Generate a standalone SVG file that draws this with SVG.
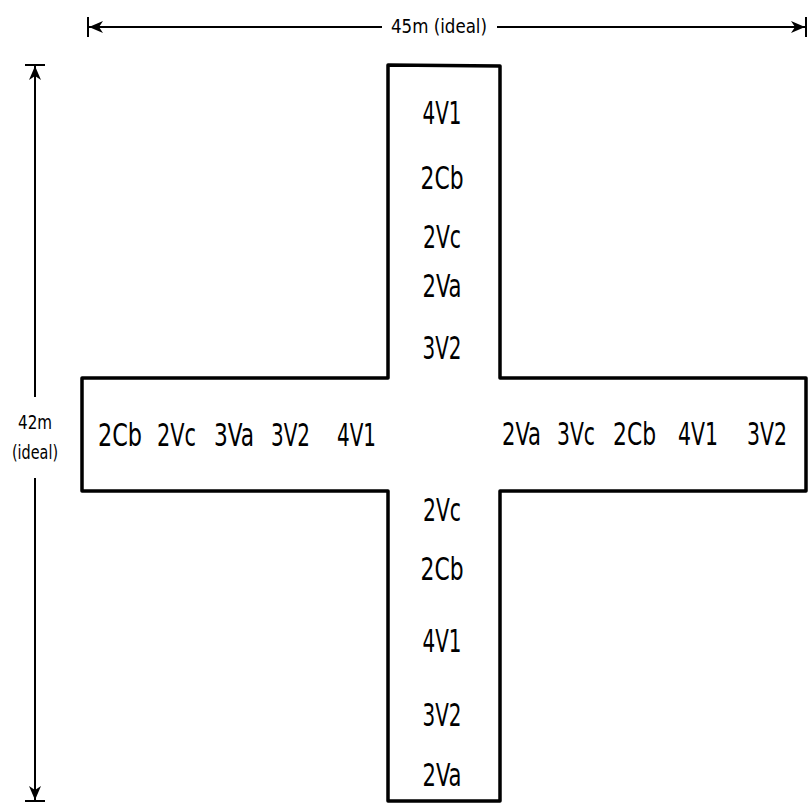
<svg xmlns="http://www.w3.org/2000/svg" width="808" height="808" viewBox="0 0 808 808">
<style>
.lbl{font-family:"Liberation Sans Narrow","DejaVu Sans Condensed","Liberation Sans",sans-serif;font-size:32px;fill:#000;text-anchor:middle}
.dim{font-family:"Liberation Sans Narrow","DejaVu Sans Condensed","Liberation Sans",sans-serif;font-size:19px;fill:#000;text-anchor:middle}
.ln{stroke:#000;stroke-width:2;fill:none}
</style>
<defs>
<marker id="ah" markerWidth="16" markerHeight="14" refX="15" refY="7" orient="auto" markerUnits="userSpaceOnUse">
<path d="M1,1 L15,7 L1,13 L5,7 Z" fill="#000"/>
</marker>
</defs>
<rect width="808" height="808" fill="#fff"/>
<g id="cross">
<path d="M388,65 L500,66 L500,378 L806,378 L806,491 L500,491 L500,801 L388,801 L388,491 L82,491 L82,378 L388,378 Z" fill="none" stroke="#000" stroke-width="3.5" stroke-linejoin="round"/>
</g>
<g id="connectors">
<line class="ln" x1="88" y1="17" x2="88" y2="37"/>
<line class="ln" x1="806" y1="17" x2="806" y2="37"/>
<line class="ln" x1="382" y1="27" x2="89" y2="27" marker-end="url(#ah)"/>
<line class="ln" x1="497" y1="27" x2="805" y2="27" marker-end="url(#ah)"/>
<line class="ln" x1="25" y1="65" x2="45" y2="65"/>
<line class="ln" x1="25" y1="801" x2="45" y2="801"/>
<line class="ln" x1="35" y1="397" x2="35" y2="66" marker-end="url(#ah)"/>
<line class="ln" x1="35" y1="478" x2="35" y2="800" marker-end="url(#ah)"/>
</g>
<g id="dims">
<text class="dim" x="439" y="33" textLength="96" lengthAdjust="spacingAndGlyphs">45m (ideal)</text>
<text class="dim" x="35" y="429" textLength="34" lengthAdjust="spacingAndGlyphs">42m</text>
<text class="dim" x="35" y="459" textLength="46" lengthAdjust="spacingAndGlyphs">(ideal)</text>
</g>
<g id="top-arm">
<text class="lbl" x="442" y="124" textLength="39" lengthAdjust="spacingAndGlyphs">4V1</text>
<text class="lbl" x="442" y="189" textLength="43" lengthAdjust="spacingAndGlyphs">2Cb</text>
<text class="lbl" x="442" y="248" textLength="38" lengthAdjust="spacingAndGlyphs">2Vc</text>
<text class="lbl" x="442" y="297" textLength="39" lengthAdjust="spacingAndGlyphs">2Va</text>
<text class="lbl" x="442" y="359" textLength="39" lengthAdjust="spacingAndGlyphs">3V2</text>
</g>
<g id="left-arm">
<text class="lbl" x="120" y="446" textLength="44" lengthAdjust="spacingAndGlyphs">2Cb</text>
<text class="lbl" x="176.5" y="446" textLength="39" lengthAdjust="spacingAndGlyphs">2Vc</text>
<text class="lbl" x="234" y="446" textLength="40" lengthAdjust="spacingAndGlyphs">3Va</text>
<text class="lbl" x="290.5" y="446" textLength="39" lengthAdjust="spacingAndGlyphs">3V2</text>
<text class="lbl" x="356.5" y="446" textLength="39" lengthAdjust="spacingAndGlyphs">4V1</text>
</g>
<g id="right-arm">
<text class="lbl" x="521.5" y="445" textLength="39" lengthAdjust="spacingAndGlyphs">2Va</text>
<text class="lbl" x="576" y="445" textLength="38" lengthAdjust="spacingAndGlyphs">3Vc</text>
<text class="lbl" x="634.5" y="445" textLength="43" lengthAdjust="spacingAndGlyphs">2Cb</text>
<text class="lbl" x="698" y="445" textLength="40" lengthAdjust="spacingAndGlyphs">4V1</text>
<text class="lbl" x="767" y="445" textLength="40" lengthAdjust="spacingAndGlyphs">3V2</text>
</g>
<g id="bottom-arm">
<text class="lbl" x="442" y="521" textLength="38" lengthAdjust="spacingAndGlyphs">2Vc</text>
<text class="lbl" x="442" y="580" textLength="43" lengthAdjust="spacingAndGlyphs">2Cb</text>
<text class="lbl" x="442" y="652" textLength="39" lengthAdjust="spacingAndGlyphs">4V1</text>
<text class="lbl" x="442" y="726" textLength="39" lengthAdjust="spacingAndGlyphs">3V2</text>
<text class="lbl" x="442" y="786" textLength="39" lengthAdjust="spacingAndGlyphs">2Va</text>
</g>
</svg>
